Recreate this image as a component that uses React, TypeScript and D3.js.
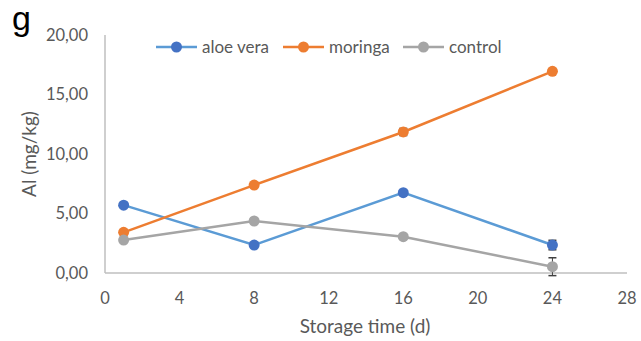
import React from "react";
import * as d3 from "d3";

const days = [1, 8, 16, 24];
const aloeVera = [5.7, 2.35, 6.75, 2.35];
const moringa = [3.42, 7.39, 11.85, 16.95];
const control = [2.77, 4.37, 3.05, 0.53];
const aloeErr = [0.1, 0.1, 0.1, 0.4];
const moringaErr = [0.1, 0.2, 0.3, 0.1];
const controlErr = [0.1, 0.1, 0.1, 0.75];
const xTicks = [0, 4, 8, 12, 16, 20, 24, 28];
const yTicks = [0, 5, 10, 15, 20];

const series = [
  { name: "aloe vera", values: aloeVera, err: aloeErr, line: "#5B9BD5", marker: "#4472C4" },
  { name: "moringa", values: moringa, err: moringaErr, line: "#ED7D31", marker: "#ED7D31" },
  { name: "control", values: control, err: controlErr, line: "#A5A5A5", marker: "#A5A5A5" },
];

export default function App() {
  const W = 641, H = 341;
  const x = d3.scaleLinear().domain([0, 28]).range([105, 627]);
  const y = d3.scaleLinear().domain([0, 20]).range([273, 35]);
  const line = d3.line<number>().x((_, i) => x(days[i])).y((v) => y(v));
  const font = "Lato, 'Open Sans', sans-serif";
  const legendX = [156, 283, 403];
  return (
    <svg width={W} height={H} style={{ position: "absolute", left: 0, top: 0, background: "#fff" }}>
      <text x={12} y={30} fontSize={34} fontFamily="'Liberation Sans', Arial, sans-serif" fill="#000">g</text>
      <line x1={x(0)} x2={x(0)} y1={y(20)} y2={y(0)} stroke="#BFBFBF" strokeWidth={1.5} />
      <line x1={x(0)} x2={x(28)} y1={y(0)} y2={y(0)} stroke="#BFBFBF" strokeWidth={1.5} />
      {yTicks.map((t) => (
        <text key={t} x={88} y={y(t)} dy="0.35em" textAnchor="end" fontSize={16.5} fill="#595959" fontFamily={font}>
          {d3.format(".2f")(t).replace(".", ",")}
        </text>
      ))}
      {xTicks.map((t) => (
        <text key={t} x={x(t)} y={298} dy="0.35em" textAnchor="middle" fontSize={16.5} fill="#595959" fontFamily={font}>
          {t}
        </text>
      ))}
      <text x={365} y={333} textAnchor="middle" fontSize={19} fill="#595959" fontFamily={font}>Storage time (d)</text>
      <text transform={`translate(36,154) rotate(-90)`} textAnchor="middle" fontSize={19} fill="#595959" fontFamily={font}>Al (mg/kg)</text>
      {series.map((s) => (
        <g key={s.name}>
          <path d={line(s.values) || ""} fill="none" stroke={s.line} strokeWidth={2.5} />
          {s.values.map((v, i) => (
            <g key={i}>
              <line x1={x(days[i])} x2={x(days[i])} y1={y(v - s.err[i])} y2={y(v + s.err[i])} stroke="#404040" strokeWidth={1} />
              <line x1={x(days[i]) - 4} x2={x(days[i]) + 4} y1={y(v - s.err[i])} y2={y(v - s.err[i])} stroke="#404040" strokeWidth={1.5} />
              <line x1={x(days[i]) - 4} x2={x(days[i]) + 4} y1={y(v + s.err[i])} y2={y(v + s.err[i])} stroke="#404040" strokeWidth={1.5} />
              <circle cx={x(days[i])} cy={y(v)} r={5.5} fill={s.marker} />
            </g>
          ))}
        </g>
      ))}
      {series.map((s, i) => (
        <g key={s.name} transform={`translate(${legendX[i]},47)`}>
          <line x1={0} x2={41} y1={0} y2={0} stroke={s.line} strokeWidth={2.5} />
          <circle cx={20.5} cy={0} r={5.5} fill={s.marker} />
          <text x={46} y={0} dy="0.35em" fontSize={17} fill="#595959" fontFamily={font}>{s.name}</text>
        </g>
      ))}
    </svg>
  );
}
